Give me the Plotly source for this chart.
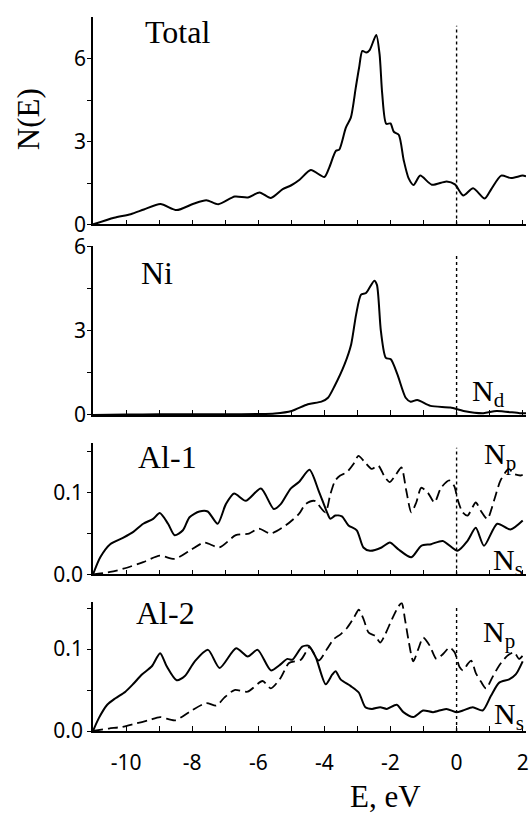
import plotly.graph_objects as go

# ---------------- data ----------------
e_total = [-11.0, -10.36, -9.86, -9.46, -8.96, -8.47, -7.96, -7.57, -7.21, -6.71, -6.31, -5.96, -5.62,
           -5.26, -5.0, -4.75, -4.41, -4.0, -3.85, -3.65, -3.55, -3.35, -3.2, -3.05, -2.95, -2.85,
           -2.73, -2.63, -2.43, -2.33, -2.25, -2.13, -2.0, -1.9, -1.75, -1.6, -1.45, -1.3, -1.1,
           -0.75, -0.3, -0.05, 0.2, 0.5, 0.85, 1.05, 1.35, 1.65, 2.0, 2.1]
n_total = [0.0, 0.24, 0.37, 0.54, 0.74, 0.52, 0.75, 0.88, 0.73, 1.01, 0.98, 1.16, 0.96,
           1.28, 1.42, 1.62, 1.97, 1.72, 2.07, 2.67, 2.71, 3.51, 3.87, 4.96, 5.68, 6.29,
           6.23, 6.32, 6.87, 6.17, 4.73, 3.65, 3.66, 3.36, 3.25, 2.33, 1.67, 1.43, 1.77,
           1.44, 1.56, 1.45, 1.05, 1.31, 0.94, 1.28, 1.77, 1.68, 1.77, 1.74]

e_ni = [-11.0, -10.0, -9.0, -8.0, -7.0, -6.0, -5.5, -4.99, -4.5, -4.09, -3.89, -3.69, -3.39, -3.19,
        -3.04, -2.89, -2.74, -2.49, -2.41, -2.29, -2.14, -1.99, -1.79, -1.54, -1.39, -1.19, -0.79,
        -0.19, 0.21, 0.81, 1.21, 1.91, 2.1]
n_ni = [0.0, 0.01, 0.02, 0.02, 0.02, 0.03, 0.05, 0.14, 0.38, 0.47, 0.61, 1.03, 1.8, 2.51,
        3.57, 4.28, 4.34, 4.78, 4.63, 2.98, 2.03, 1.98, 1.44, 0.61, 0.47, 0.53, 0.32,
        0.26, 0.14, 0.06, 0.14, 0.06, 0.06]

e_al1_s = [-11.0, -10.78, -10.48, -10.08, -9.78, -9.48, -9.18, -8.98, -8.73, -8.53, -8.28, -8.08, -7.78,
           -7.53, -7.23, -6.98, -6.73, -6.38, -5.92, -5.53, -5.32, -5.02, -4.77, -4.45, -4.17, -3.92,
           -3.82, -3.67, -3.47, -3.27, -3.02, -2.82, -2.62, -2.27, -2.02, -1.77, -1.37, -1.07, -0.77,
           -0.42, 0.03, 0.33, 0.58, 0.83, 1.23, 1.63, 2.0]
n_al1_s = [0.0, 0.021, 0.037, 0.045, 0.052, 0.062, 0.068, 0.075, 0.062, 0.048, 0.054, 0.070, 0.077,
           0.077, 0.062, 0.086, 0.099, 0.090, 0.105, 0.080, 0.086, 0.105, 0.113, 0.128, 0.102, 0.076,
           0.068, 0.072, 0.071, 0.060, 0.054, 0.033, 0.029, 0.033, 0.039, 0.031, 0.021, 0.035, 0.037,
           0.041, 0.029, 0.041, 0.057, 0.035, 0.062, 0.055, 0.066]

e_al1_p = [-11.0, -10.48, -10.08, -9.48, -8.98, -8.53, -8.08, -7.63, -7.18, -6.68, -6.28, -5.98, -5.63,
           -5.17, -4.77, -4.57, -4.3, -3.97, -3.82, -3.67, -3.52, -3.32, -3.12, -2.97, -2.77, -2.57,
           -2.37, -2.17, -2.02, -1.82, -1.67, -1.52, -1.37, -1.22, -1.07, -0.87, -0.67, -0.47, -0.22,
           -0.07, 0.03, 0.18, 0.33, 0.58, 0.73, 0.93, 1.13, 1.33, 1.58, 1.73, 1.93, 2.0]
n_al1_p = [0.0, 0.003, 0.007, 0.015, 0.023, 0.019, 0.029, 0.039, 0.033, 0.048, 0.050, 0.056, 0.050,
           0.060, 0.074, 0.086, 0.090, 0.076, 0.098, 0.115, 0.121, 0.125, 0.135, 0.145, 0.137, 0.129,
           0.133, 0.119, 0.113, 0.123, 0.131, 0.102, 0.076, 0.088, 0.106, 0.100, 0.088, 0.106, 0.115,
           0.108, 0.092, 0.076, 0.072, 0.088, 0.078, 0.068, 0.090, 0.115, 0.129, 0.123, 0.121, 0.122]

e_al2_s = [-11.0, -10.82, -10.57, -10.32, -10.02, -9.77, -9.52, -9.22, -8.97, -8.77, -8.47, -8.22, -7.92,
           -7.52, -7.17, -6.67, -6.32, -6.02, -5.62, -5.37, -5.12, -4.97, -4.67, -4.47, -4.26, -3.96,
           -3.76, -3.66, -3.51, -3.21, -2.96, -2.76, -2.56, -2.31, -2.11, -1.81, -1.61, -1.31, -1.01,
           -0.71, -0.31, -0.01, 0.19, 0.49, 0.79, 1.04, 1.29, 1.59, 1.79, 2.0]
n_al2_s = [0.0, 0.016, 0.032, 0.040, 0.048, 0.058, 0.069, 0.079, 0.095, 0.079, 0.062, 0.067, 0.085,
           0.099, 0.077, 0.101, 0.091, 0.099, 0.074, 0.080, 0.088, 0.087, 0.103, 0.104, 0.090, 0.057,
           0.069, 0.073, 0.063, 0.055, 0.047, 0.029, 0.027, 0.029, 0.027, 0.032, 0.023, 0.017, 0.025,
           0.023, 0.027, 0.023, 0.025, 0.029, 0.025, 0.043, 0.059, 0.063, 0.069, 0.085]

e_al2_p = [-11.0, -10.52, -10.12, -9.72, -9.32, -8.97, -8.52, -8.02, -7.57, -7.27, -7.02, -6.72, -6.32,
           -5.87, -5.62, -5.32, -5.07, -4.71, -4.45, -4.17, -3.92, -3.72, -3.51, -3.31, -3.11, -2.96,
           -2.81, -2.66, -2.46, -2.31, -2.16, -1.96, -1.76, -1.66, -1.56, -1.46, -1.31, -1.16, -1.01,
           -0.81, -0.61, -0.41, -0.21, -0.06, 0.09, 0.19, 0.34, 0.44, 0.59, 0.74, 0.89, 1.09, 1.29,
           1.54, 1.74, 1.89, 2.0]
n_al2_p = [0.0, 0.003, 0.005, 0.009, 0.013, 0.017, 0.013, 0.025, 0.034, 0.031, 0.041, 0.050, 0.048,
           0.061, 0.052, 0.065, 0.083, 0.087, 0.102, 0.086, 0.100, 0.112, 0.118, 0.126, 0.138, 0.148,
           0.136, 0.120, 0.116, 0.108, 0.118, 0.136, 0.152, 0.156, 0.136, 0.112, 0.085, 0.100, 0.114,
           0.104, 0.088, 0.094, 0.102, 0.096, 0.078, 0.074, 0.082, 0.086, 0.070, 0.060, 0.052, 0.066, 0.080,
           0.092, 0.096, 0.088, 0.092]

x_tickvals = list(range(-11, 3))
x_ticktext = ["" if v % 2 else str(v) for v in x_tickvals]
y_big_tickvals = [0, 1.5, 3, 4.5, 6]
y_big_ticktext = ["0", "", "3", "", "6"]
y_small_tickvals = [0, 0.05, 0.1, 0.15]
y_small_ticktext = ["0.0", "", "0.1", ""]

panel_names = ["Total", "Ni", "Al-1", "Al-2"]

# ---------------- figure ----------------
W, H = 531, 815
L, R, T, B = 93, 2, 15, 84
PW, PH = W - L - R, H - T - B


def px_x(px):
    return (px - L) / PW


def px_y(py):
    return (H - B - py) / PH


domains = [
    [px_y(223), px_y(15)],
    [px_y(414), px_y(245)],
    [px_y(574), px_y(442)],
    [px_y(731), px_y(602)],
]
yranges = [[0, 7.52], [0, 6.0], [0, 0.161], [0, 0.157]]
x_range = [-11, 2.1]

fig = go.Figure()
line_solid = dict(color="black", width=2, shape="spline", smoothing=0.7)
line_dash = dict(color="black", width=1.8, dash="10px,5px", shape="spline", smoothing=0.7)

fig.add_trace(go.Scatter(x=e_total, y=n_total, mode="lines", line=line_solid, xaxis="x", yaxis="y"))
fig.add_trace(go.Scatter(x=e_ni, y=n_ni, mode="lines", line=line_solid, xaxis="x2", yaxis="y2"))
fig.add_trace(go.Scatter(x=e_al1_s, y=n_al1_s, mode="lines", line=line_solid, xaxis="x3", yaxis="y3"))
fig.add_trace(go.Scatter(x=e_al1_p, y=n_al1_p, mode="lines", line=line_dash, xaxis="x3", yaxis="y3"))
fig.add_trace(go.Scatter(x=e_al2_s, y=n_al2_s, mode="lines", line=line_solid, xaxis="x4", yaxis="y4"))
fig.add_trace(go.Scatter(x=e_al2_p, y=n_al2_p, mode="lines", line=line_dash, xaxis="x4", yaxis="y4"))

tick_font = dict(family="Noto Sans", size=21, color="black")
layout = dict(
    width=W, height=H,
    margin=dict(l=L, r=R, t=T, b=B),
    paper_bgcolor="white", plot_bgcolor="white",
    showlegend=False,
)
for i in range(4):
    sx = "" if i == 0 else str(i + 1)
    last = i == 3
    layout["xaxis" + sx] = dict(
        domain=[0, 1], anchor="y" + sx, range=x_range,
        tickmode="array", tickvals=x_tickvals, ticktext=x_ticktext,
        showticklabels=last, ticks="inside", ticklen=5, tickwidth=1.2, tickcolor="black",
        showline=True, linecolor="black", linewidth=1.6, showgrid=False, zeroline=False,
        tickfont=tick_font, ticklabelstandoff=12 if last else 0, ticklabeloverflow="allow",
    )
    big = i < 2
    layout["yaxis" + sx] = dict(
        domain=domains[i], anchor="x" + sx, range=yranges[i],
        tickmode="array",
        tickvals=y_big_tickvals if big else y_small_tickvals,
        ticktext=y_big_ticktext if big else y_small_ticktext,
        ticks="outside", ticklen=4, tickwidth=1.2, tickcolor="black",
        showline=True, linecolor="black", linewidth=1.6, showgrid=False, zeroline=False,
        tickfont=tick_font, ticklabelstandoff=-3 if big else 0,
    )
fig.update_layout(**layout)

# Fermi level dotted lines
dot_tops = [7.2, 5.73, 0.155, 0.152]
for i in range(4):
    sx = "" if i == 0 else str(i + 1)
    fig.add_shape(type="line", xref="x" + sx, yref="y" + sx, x0=0, x1=0, y0=0, y1=dot_tops[i],
                  line=dict(color="black", width=1.4, dash="dot"))

serif = "Liberation Serif"
ann = []


def add_text(txt, x, y, size, angle=0):
    ann.append(dict(text=txt, x=px_x(x), y=px_y(y), xref="paper", yref="paper",
                    xanchor="center", yanchor="middle", textangle=angle,
                    showarrow=False, font=dict(family=serif, size=size, color="black")))


label_pos = [(178, 30), (157, 272), (168, 456), (166, 613)]
for name, (ax_, ay_) in zip(panel_names, label_pos):
    add_text(name, ax_, ay_, 32)
sub_labels = [("N<sub>d</sub>", 491, 392), ("N<sub>p</sub>", 503, 455), ("N<sub>s</sub>", 511, 562),
              ("N<sub>p</sub>", 502, 634), ("N<sub>s</sub>", 512, 716)]
for txt, ax_, ay_ in sub_labels:
    add_text(txt, ax_, ay_, 30)
add_text("N(E)", 28, 117, 31, -90)
add_text("E, eV", 388, 797, 31)
fig.update_layout(annotations=ann)

fig.write_html("out.html", config={"displayModeBar": False},
               post_script="document.body.style.margin='0';document.body.style.overflow='hidden';")
